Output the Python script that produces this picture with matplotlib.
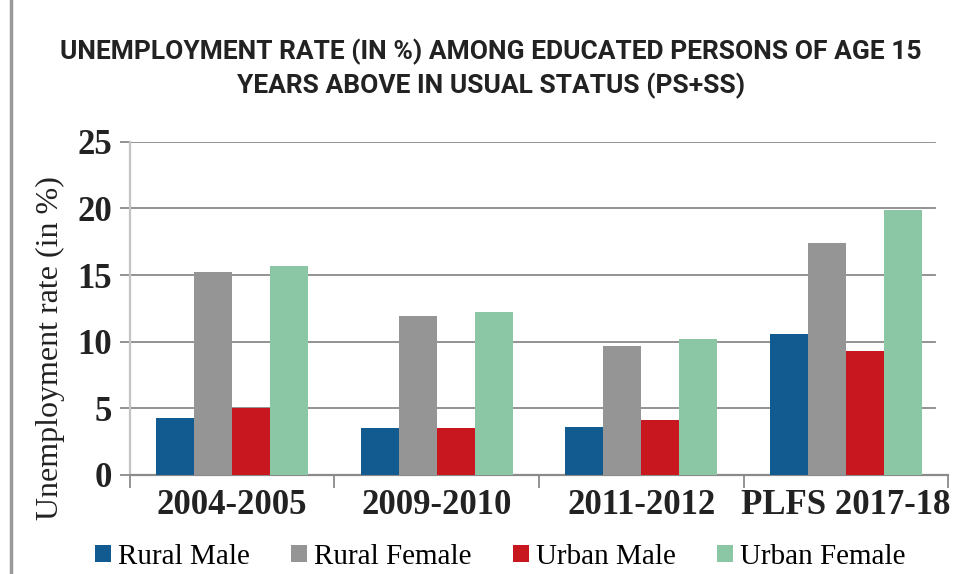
import matplotlib
matplotlib.use("Agg")
import matplotlib.pyplot as plt
from matplotlib.lines import Line2D
import numpy as np

categories = ['2004-2005', '2009-2010', '2011-2012', 'PLFS 2017-18']
series_names = ['Rural Male', 'Rural Female', 'Urban Male', 'Urban Female']
rural_male = [4.3, 3.5, 3.6, 10.6]
rural_female = [15.2, 11.9, 9.7, 17.4]
urban_male = [5.0, 3.5, 4.1, 9.3]
urban_female = [15.7, 12.2, 10.2, 19.9]
colors = ['#115b91', '#959595', '#c8171e', '#8cc7a5']
yticks = [0, 5, 10, 15, 20, 25]

title_font = ['Roboto', 'DejaVu Sans']
serif_font = ['Liberation Serif', 'DejaVu Serif']


def main():
    fig = plt.figure(figsize=(9.62, 5.74), dpi=100)
    ax = fig.add_axes([0.135, 0.1725, 0.8505, 0.5805])

    x = np.arange(len(categories))
    width = 0.186
    values = [rural_male, rural_female, urban_male, urban_female]
    for i, (name, vals) in enumerate(zip(series_names, values)):
        ax.bar(x + (i - 1.5) * width, vals, width, color=colors[i],
               label=name, zorder=3)

    ax.set_xlim(-0.5, 3.5)
    ax.set_ylim(0, 25)

    # horizontal gridlines stop a bit short of the right end
    for y in yticks[1:]:
        ax.axhline(y, xmin=0, xmax=0.984, color='#8a8a8a', lw=1.3, zorder=1)

    for s in ['top', 'right']:
        ax.spines[s].set_visible(False)
    ax.spines['left'].set_color('#c4c4c4')
    ax.spines['left'].set_linewidth(1.6)
    ax.spines['bottom'].set_color('#8a8a8a')
    ax.spines['bottom'].set_linewidth(1.6)

    ax.set_yticks(yticks)
    ax.set_yticklabels([str(t) for t in yticks], fontfamily=serif_font,
                       fontweight='bold', fontsize=25, color='#222222')
    ax.tick_params(axis='y', length=7, width=1.3, color='#8a8a8a', pad=6)

    ax.set_xticks(x)
    ax.set_xticklabels(categories, fontfamily=serif_font, fontweight='bold',
                       fontsize=25, color='#222222')
    ax.tick_params(axis='x', which='major', length=0, pad=10)
    ax.set_xticks(np.arange(-0.5, 4, 1), minor=True)
    ax.tick_params(axis='x', which='minor', length=9, width=1.3,
                   color='#8a8a8a')

    ax.set_ylabel('Unemployment rate (in %)', fontfamily=serif_font,
                  fontsize=23, color='#222222')
    ax.yaxis.set_label_coords(-0.079, 0.38)

    fig.text(0.51, 0.88,
             'UNEMPLOYMENT RATE (IN %) AMONG EDUCATED PERSONS OF AGE 15\n'
             'YEARS ABOVE IN USUAL STATUS (PS+SS)',
             ha='center', va='center', fontfamily=title_font,
             fontweight='bold', fontsize=19, color='#222222',
             linespacing=1.35)

    fig.legend(loc='center', bbox_to_anchor=(0.52, 0.03), ncol=4,
               frameon=False, handlelength=0.55, handleheight=0.55,
               handletextpad=0.25, columnspacing=1.4,
               prop={'family': serif_font, 'size': 21})

    # grey frame line on the left edge of the picture
    fig.add_artist(Line2D([0.011, 0.011], [0, 1], transform=fig.transFigure,
                          color='#9a9a9a', lw=2.5))

    fig.savefig('out.png', dpi=100, facecolor='white')


if __name__ == "__main__":
    main()
